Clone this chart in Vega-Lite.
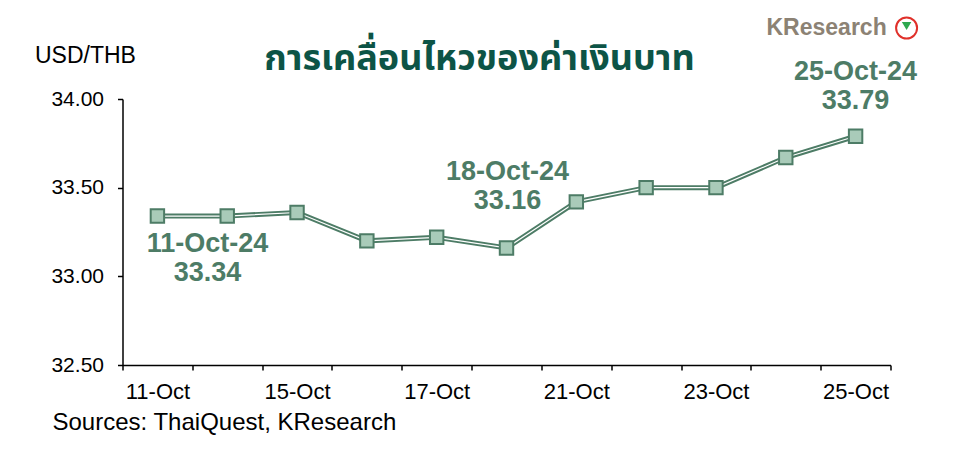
{
  "$schema": "https://vega.github.io/schema/vega-lite/v6.json",
  "autosize": {"type": "none"},
  "width": 768,
  "height": 266,
  "padding": {"left": 122.5, "top": 99, "right": 74.5, "bottom": 99},
  "background": "white",
  "config": {
    "view": {"stroke": null},
    "font": "Liberation Sans"
  },
  "title": {
    "text": "การเคลื่อนไหวของค่าเงินบาท",
    "font": "Noto Sans Thai, Noto Sans, sans-serif",
    "fontSize": 36,
    "fontWeight": "bold",
    "color": "#0d5446",
    "anchor": "middle",
    "dx": -27,
    "offset": -81,
    "baseline": "middle"
  },
  "datasets": {
    "fx": [
      {"date": "11-Oct", "value": 33.34},
      {"date": "14-Oct", "value": 33.34},
      {"date": "15-Oct", "value": 33.36},
      {"date": "16-Oct", "value": 33.20},
      {"date": "17-Oct", "value": 33.22},
      {"date": "18-Oct", "value": 33.16},
      {"date": "21-Oct", "value": 33.42},
      {"date": "22-Oct", "value": 33.50},
      {"date": "23-Oct", "value": 33.50},
      {"date": "24-Oct", "value": 33.67},
      {"date": "25-Oct", "value": 33.79}
    ],
    "notes": [
      {"date": "11-Oct", "value": 33.34, "label": "11-Oct-24\n33.34"},
      {"date": "18-Oct", "value": 33.16, "label": "18-Oct-24\n33.16"},
      {"date": "25-Oct", "value": 33.79, "label": "25-Oct-24\n33.79"}
    ],
    "logo": [
      {"date": "25-Oct", "value": 34.0, "brand": "KResearch"}
    ]
  },
  "encoding": {
    "x": {
      "field": "date",
      "type": "ordinal",
      "sort": null,
      "scale": {"type": "band", "paddingInner": 0, "paddingOuter": 0},
      "axis": {
        "title": "Sources: ThaiQuest, KResearch",
        "titleFontSize": 24,
        "titleFontWeight": "normal",
        "titleColor": "black",
        "titleAnchor": "start",
        "titleAlign": "left",
        "titleBaseline": "middle",
        "titleX": -70.5,
        "titleY": 57,
        "labelAngle": 0,
        "labelFontSize": 22,
        "labelColor": "black",
        "labelPadding": 11,
        "labelExpr": "indexof(['11-Oct','15-Oct','17-Oct','21-Oct','23-Oct','25-Oct'], datum.value) >= 0 ? datum.value : ''",
        "tickBand": "extent",
        "tickSize": 5,
        "tickColor": "black",
        "tickWidth": 1.5,
        "domainColor": "black",
        "domainWidth": 1.5,
        "grid": false
      }
    },
    "y": {
      "field": "value",
      "type": "quantitative",
      "scale": {"domain": [32.5, 34], "nice": false, "zero": false},
      "axis": {
        "title": "USD/THB",
        "titleAngle": 0,
        "titleAlign": "left",
        "titleBaseline": "middle",
        "titleX": -88,
        "titleY": -44,
        "titleFontSize": 23,
        "titleFontWeight": "normal",
        "titleColor": "black",
        "values": [32.5, 33, 33.5, 34],
        "format": ".2f",
        "labelFontSize": 21,
        "labelColor": "black",
        "labelPadding": 14,
        "tickSize": 5,
        "tickColor": "black",
        "tickWidth": 1.5,
        "domainColor": "black",
        "domainWidth": 1.5,
        "grid": false
      }
    }
  },
  "layer": [
    {
      "data": {"name": "fx"},
      "mark": {"type": "line", "color": "#4d7c66", "strokeWidth": 5},
      "encoding": {}
    },
    {
      "data": {"name": "fx"},
      "mark": {"type": "line", "color": "white", "strokeWidth": 1.2},
      "encoding": {}
    },
    {
      "data": {"name": "fx"},
      "mark": {"type": "point", "shape": "square", "filled": true, "size": 180, "fill": "#a9cbb9", "stroke": "#4d7c66", "strokeWidth": 2, "opacity": 1},
      "encoding": {}
    },
    {
      "data": {"name": "notes"},
      "transform": [{"filter": "datum.date == '11-Oct'"}],
      "mark": {"type": "text", "font": "Liberation Sans", "fontWeight": "bold", "fontSize": 27, "color": "#4d7c66", "align": "center", "baseline": "middle", "lineBreak": "\n", "lineHeight": 29, "dx": 50, "dy": 27.5},
      "encoding": {"text": {"field": "label"}}
    },
    {
      "data": {"name": "notes"},
      "transform": [{"filter": "datum.date == '18-Oct'"}],
      "mark": {"type": "text", "font": "Liberation Sans", "fontWeight": "bold", "fontSize": 27, "color": "#4d7c66", "align": "center", "baseline": "middle", "lineBreak": "\n", "lineHeight": 29, "dx": 1, "dy": -76},
      "encoding": {"text": {"field": "label"}}
    },
    {
      "data": {"name": "notes"},
      "transform": [{"filter": "datum.date == '25-Oct'"}],
      "mark": {"type": "text", "font": "Liberation Sans", "fontWeight": "bold", "fontSize": 27, "color": "#4d7c66", "align": "center", "baseline": "middle", "lineBreak": "\n", "lineHeight": 29, "dx": 0, "dy": -64},
      "encoding": {"text": {"field": "label"}}
    },
    {
      "data": {"name": "logo"},
      "mark": {"type": "text", "font": "Liberation Sans", "fontWeight": "bold", "fontSize": 23, "color": "#8c8274", "align": "center", "baseline": "middle", "dx": -29, "dy": -71},
      "encoding": {"text": {"field": "brand"}}
    },
    {
      "data": {"name": "logo"},
      "mark": {"type": "point", "shape": "circle", "size": 441, "fill": "white", "filled": true, "stroke": "#e0302a", "strokeWidth": 2, "opacity": 1, "xOffset": 51, "yOffset": -71},
      "encoding": {}
    },
    {
      "data": {"name": "logo"},
      "mark": {"type": "point", "shape": "triangle-down", "size": 90, "fill": "#2fa84f", "filled": true, "opacity": 1, "xOffset": 51, "yOffset": -73},
      "encoding": {}
    }
  ]
}
